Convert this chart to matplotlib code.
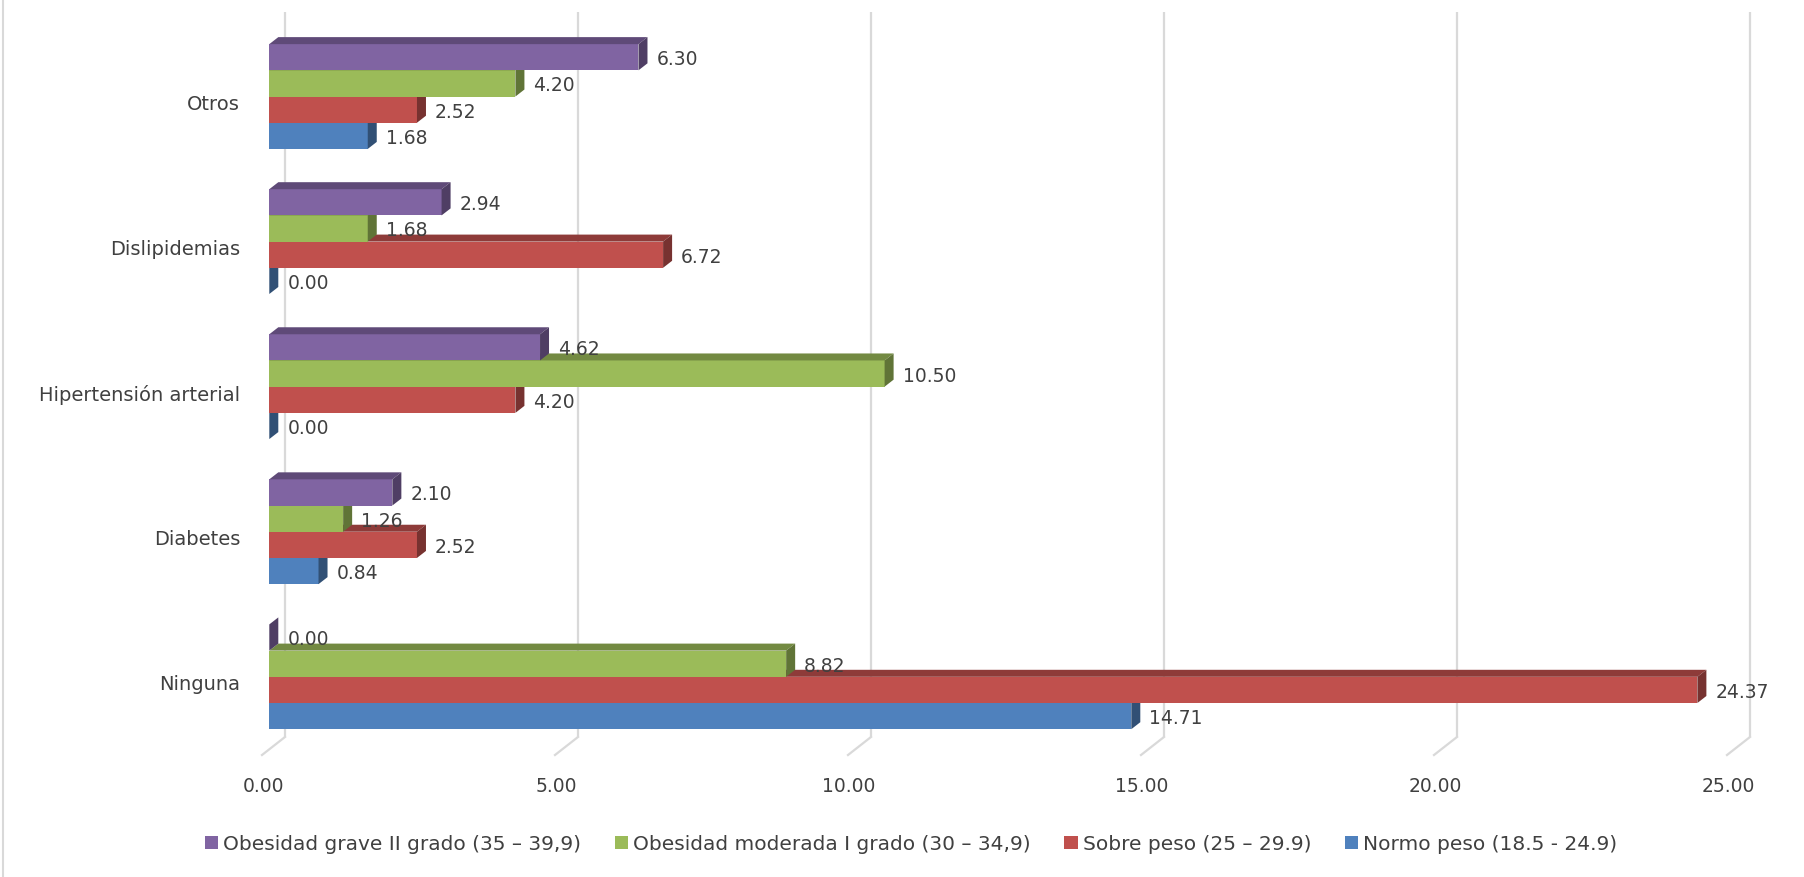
import matplotlib
matplotlib.use("Agg")
from matplotlib import pyplot as plt
from matplotlib.patches import Polygon, Patch
from matplotlib.lines import Line2D
import numpy as np

# data
categories = ['Ninguna', 'Diabetes', 'Hipertensión arterial', 'Dislipidemias', 'Otros']
normo = [14.71, 0.84, 0.00, 0.00, 1.68]
sobre = [24.37, 2.52, 4.20, 6.72, 2.52]
moderada = [8.82, 1.26, 10.50, 1.68, 4.20]
grave = [0.00, 2.10, 4.62, 2.94, 6.30]
ticks = [0, 5, 10, 15, 20, 25]

# bottom-to-top order inside each group
series = [
    ('Normo peso (18.5 - 24.9)', normo, '#4F81BD'),
    ('Sobre peso (25 – 29.9)', sobre, '#C0504D'),
    ('Obesidad moderada I grado (30 – 34,9)', moderada, '#9BBB59'),
    ('Obesidad grave II grado (35 – 39,9)', grave, '#8064A2'),
]

W, H = 1804, 878
TXT = '#404040'
GRID = '#D9D9D9'
FS = 13.5

# pixel layout of the front plane
PXX = 58.6                 # px per x unit
PXY = 145.07               # px per category
x0_px = 269.3
ax_right = 1760
y_c0 = 677.8               # pixel row (from top) of category 0 centre
ax_top, ax_bot = 12.7, 738

plt.rcParams['font.family'] = 'DejaVu Sans'

fig = plt.figure(figsize=(W / 100, H / 100), dpi=100)
ax = fig.add_axes([x0_px / W, 1 - ax_bot / H, (ax_right - x0_px) / W, (ax_bot - ax_top) / H])
ax.set_xlim(0, (ax_right - x0_px) / PXX)
ax.set_ylim(-(ax_bot - y_c0) / PXY, (y_c0 - ax_top) / PXY)
ax.axis('off')

ymin, ymax = ax.get_ylim()

# back wall gridlines + floor diagonals
back = 15.7 / PXX
floor_dx = 23 / PXX
floor_y = -(756 - y_c0) / PXY
for t in ticks:
    ax.plot([t + back, t + back], [ymin, ymax], color=GRID, lw=1.6, zorder=1, clip_on=False,
            solid_capstyle='butt')
    ax.plot([t + back, t + back - floor_dx], [ymin, floor_y], color=GRID, lw=1.6, zorder=1,
            clip_on=False)
    ax.text(t - 6.3 / PXX, -(787 - y_c0) / PXY, f'{t:.2f}', ha='center', va='center',
            fontsize=FS, color=TXT, clip_on=False)

# bars with a small 3D depth
h = 26.2 / PXY
dx = 9 / PXX
dy = 7 / PXY
offsets = [-1.5 * h, -0.5 * h, 0.5 * h, 1.5 * h]
y = np.arange(len(categories))


def shade(c, f):
    rgb = np.array(matplotlib.colors.to_rgb(c))
    return tuple(rgb * f)


for i, (name, vals, col) in enumerate(series):
    z = 3 + i
    yy = y + offsets[i]
    ax.barh(yy, vals, height=h, color=col, zorder=z, edgecolor='none')
    for yc, v in zip(yy, vals):
        y0, y1 = yc - h / 2, yc + h / 2
        top = Polygon([(0, y1), (v, y1), (v + dx, y1 + dy), (dx, y1 + dy)],
                      closed=True, facecolor=shade(col, 0.74), edgecolor='none', zorder=z)
        side = Polygon([(v, y0), (v, y1), (v + dx, y1 + dy), (v + dx, y0 + dy)],
                       closed=True, facecolor=shade(col, 0.62), edgecolor='none', zorder=z)
        ax.add_patch(top)
        ax.add_patch(side)
        ax.text(v + dx + 9 / PXX, yc - 1.5 / PXY, f'{v:.2f}', ha='left', va='center',
                fontsize=FS, color=TXT, zorder=10)

# category labels
for c, name in zip(y, categories):
    ax.text(-29.3 / PXX, c - 7 / PXY, name, ha='right', va='center', fontsize=14,
            color=TXT, clip_on=False)

# legend (top-of-group series first)
handles = [Patch(facecolor=col, edgecolor='none') for _, _, col in series[::-1]]
labels = [name for name, _, _ in series[::-1]]
fig.legend(handles, labels, loc='center', bbox_to_anchor=(0.505, 1 - 845 / H), ncol=4,
           frameon=False, fontsize=14.5, labelcolor=TXT, handlelength=0.68, handleheight=0.68,
           handletextpad=0.25, columnspacing=1.65)

# chart area border (left edge visible)
fig.add_artist(Line2D([3 / W, 3 / W], [0, 1], transform=fig.transFigure, color=GRID, lw=1.5))

fig.savefig('out.png', dpi=100, facecolor='white')
